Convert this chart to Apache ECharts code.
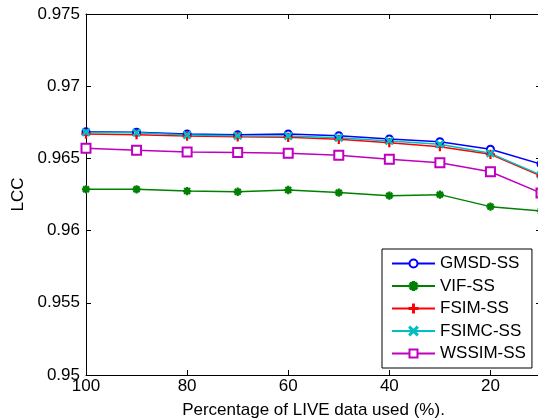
<!DOCTYPE html>
<html>
<head>
<meta charset="utf-8">
<script src="https://cdn.jsdelivr.net/npm/echarts@6/dist/echarts.min.js"></script>
<style>
  html, body { margin: 0; padding: 0; background: #fff; }
  #chart { width: 538px; height: 418px; }
</style>
</head>
<body>
<div id="chart"></div>
<script>
// percentage of LIVE data used
const pct = [100, 90, 80, 70, 60, 50, 40, 30, 20, 10];
const xTicks = [100, 80, 60, 40, 20];
const seriesNames = ['GMSD-SS', 'VIF-SS', 'FSIM-SS', 'FSIMC-SS', 'WSSIM-SS'];
const gmsd  = [0.96685, 0.96681, 0.96669, 0.96664, 0.96669, 0.96657, 0.96634, 0.96616, 0.96563, 0.96461];
const vif   = [0.96286, 0.96286, 0.96274, 0.96269, 0.96281, 0.96263, 0.96242, 0.96249, 0.96166, 0.96136];
const fsim  = [0.96669, 0.96664, 0.96655, 0.96650, 0.96646, 0.96632, 0.96609, 0.96581, 0.96528, 0.96378];
const fsimc = [0.96681, 0.96678, 0.96662, 0.96657, 0.96655, 0.96643, 0.96621, 0.96598, 0.96535, 0.96385];
const wssim = [0.96570, 0.96556, 0.96544, 0.96540, 0.96535, 0.96521, 0.96494, 0.96470, 0.96408, 0.96260];

// marker shapes (matlab style)
const plusPath = 'path://M4.4,0H5.6V4.4H10V5.6H5.6V10H4.4V5.6H0V4.4H4.4Z';
const crossPath = 'path://M0,1L1,0L5,4L9,0L10,1L6,5L10,9L9,10L5,6L1,10L0,9L4,5Z';
const starPath = 'path://M4.3,0H5.7V4.3H10V5.7H5.7V10H4.3V5.7H0V4.3H4.3Z' +
  'M1,1.9L1.9,1L5,4.1L8.1,1L9,1.9L5.9,5L9,8.1L8.1,9L5,5.9L1.9,9L1,8.1L4.1,5Z';

const font = 'Liberation Sans, Arial, sans-serif';

function pairs(vals) {
  return pct.map((p, i) => [p, vals[i]]);
}

function mkSeries(name, vals, color, symbol, size) {
  return {
    name: name,
    type: 'line',
    data: pairs(vals),
    symbol: symbol,
    symbolSize: size,
    showAllSymbol: true,
    color: color,
    lineStyle: { width: 1.5, color: color },
    itemStyle: { color: color, borderColor: color, borderWidth: 1.3 },
    emphasis: { disabled: true },
    animation: false
  };
}

let myChart = echarts.init(document.getElementById('chart'));
myChart.setOption({
  backgroundColor: '#fff',
  grid: { left: 86, right: -3, top: 14, bottom: 43, outerBoundsMode: 'none' },
  legend: {
    orient: 'vertical',
    left: 382,
    top: 249,
    backgroundColor: '#fff',
    borderColor: '#000',
    borderWidth: 1,
    borderRadius: 0,
    padding: [6, 6, 6, 9],
    itemWidth: 43,
    itemHeight: 10,
    itemGap: 5.5,
    selectedMode: false,
    textStyle: { fontSize: 17, color: '#000', fontFamily: font, lineHeight: 17 },
    data: seriesNames
  },
  xAxis: [
    {
      type: 'value',
      inverse: true,
      min: 10,
      max: 100,
      name: 'Percentage of LIVE data used (%).',
      nameLocation: 'middle',
      nameGap: 27,
      nameTextStyle: { fontSize: 17, color: '#000', fontFamily: font },
      axisLine: { show: true, lineStyle: { color: '#000', width: 1 } },
      axisTick: { show: true, inside: true, length: 5, customValues: xTicks, lineStyle: { color: '#000' } },
      axisLabel: { customValues: xTicks, fontSize: 17, color: '#000', fontFamily: font, margin: 3 },
      splitLine: { show: false }
    },
    {
      type: 'value',
      position: 'top',
      inverse: true,
      min: 10,
      max: 100,
      axisLine: { show: true, lineStyle: { color: '#000', width: 1 } },
      axisTick: { show: true, inside: true, length: 5, customValues: xTicks, lineStyle: { color: '#000' } },
      axisLabel: { show: false },
      splitLine: { show: false }
    }
  ],
  yAxis: [
    {
      type: 'value',
      min: 0.95,
      max: 0.975,
      interval: 0.005,
      name: 'LCC',
      nameLocation: 'middle',
      nameGap: 59,
      nameTextStyle: { fontSize: 17, color: '#000', fontFamily: font },
      axisLine: { show: true, lineStyle: { color: '#000', width: 1 } },
      axisTick: { show: true, inside: true, length: 5, lineStyle: { color: '#000' } },
      axisLabel: { fontSize: 17, color: '#000', fontFamily: font, margin: 6 },
      splitLine: { show: false }
    },
    {
      type: 'value',
      position: 'right',
      min: 0.95,
      max: 0.975,
      interval: 0.005,
      axisLine: { show: true, lineStyle: { color: '#000', width: 1 } },
      axisTick: { show: true, inside: true, length: 5, lineStyle: { color: '#000' } },
      axisLabel: { show: false },
      splitLine: { show: false }
    }
  ],
  series: [
    mkSeries('GMSD-SS', gmsd, '#0000ff', 'emptyCircle', 7),
    mkSeries('VIF-SS', vif, '#008000', starPath, 7),
    mkSeries('FSIM-SS', fsim, '#ff0000', plusPath, 8),
    mkSeries('FSIMC-SS', fsimc, '#00bfbf', crossPath, 7),
    mkSeries('WSSIM-SS', wssim, '#bf00bf', 'emptyRect', 9)
  ]
});
</script>
</body>
</html>
